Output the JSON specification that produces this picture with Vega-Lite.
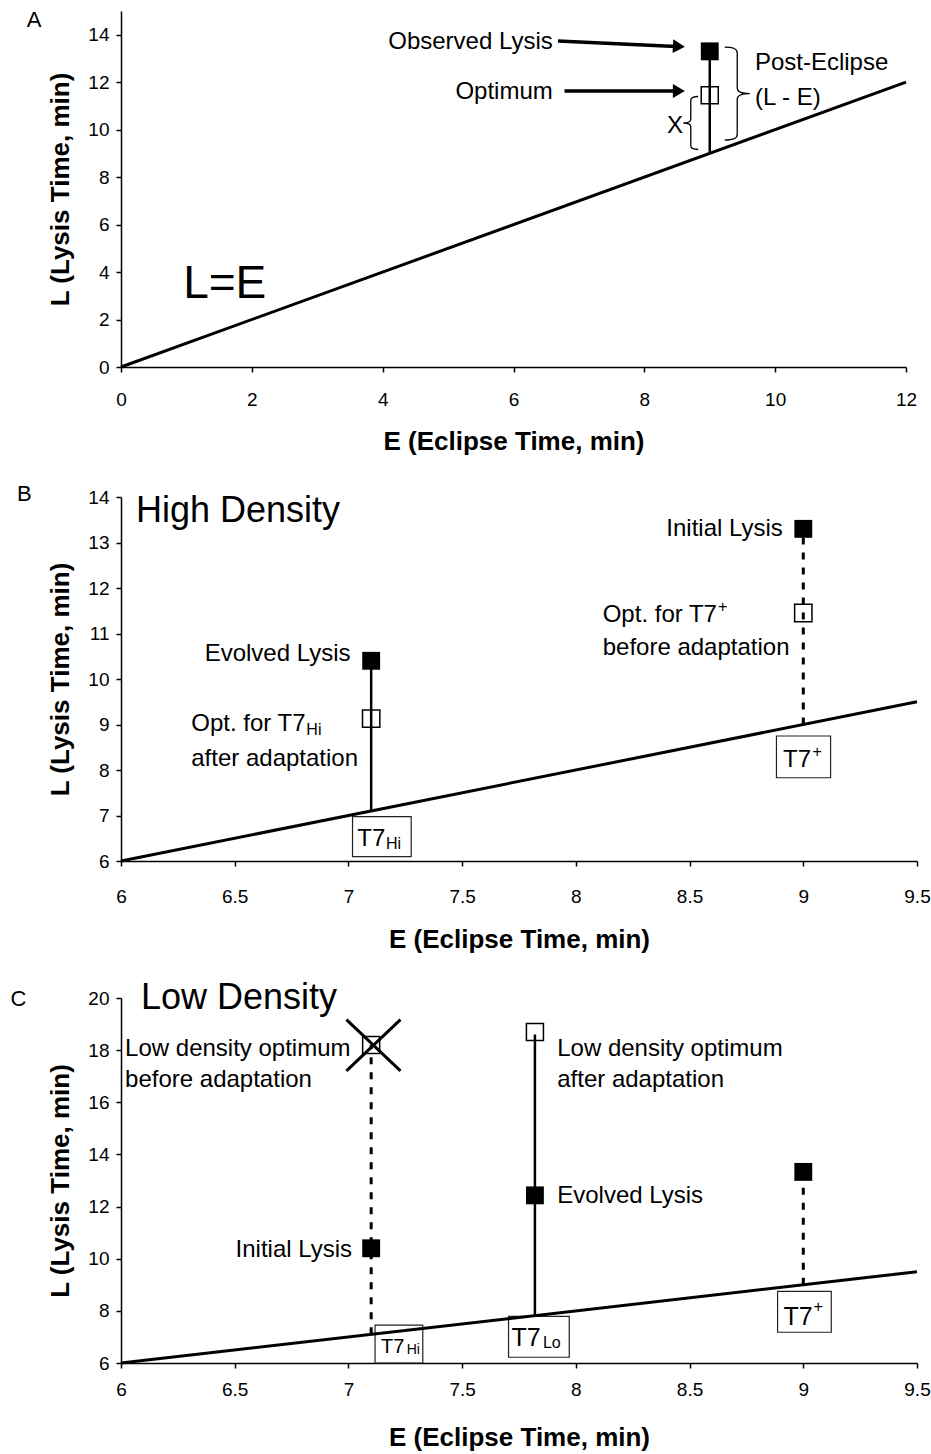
{
  "$schema": "https://vega.github.io/schema/vega-lite/v6.json",
  "padding": {"left": 10, "top": 9, "right": 5, "bottom": 5},
  "spacing": 28,
  "background": "white",
  "config": {
    "view": {"stroke": null},
    "font": "Liberation Sans",
    "axis": {
      "grid": false, "domainColor": "black", "domainWidth": 1.5, "tickColor": "black", "tickWidth": 1.5, "tickSize": 5,
      "labelColor": "black", "labelFont": "Liberation Sans", "labelFontSize": 19, "labelFlush": false, "labelOverlap": false,
      "titleColor": "black", "titleFont": "Liberation Sans", "titleFontSize": 26, "titleFontWeight": "bold"
    },
    "axisX": {"labelPadding": 18, "titlePadding": 19, "labelAngle": 0},
    "axisY": {"labelPadding": 7, "titlePadding": 14},
    "text": {"font": "Liberation Sans", "color": "black"}
  },
  "datasets": {
    "A_line": [{"E": 0, "L": 0}, {"E": 12, "L": 12}],
    "A_stem": [{"E": 9, "L": 9}, {"E": 9, "L": 13.3}],
    "A_filled": [{"E": 9, "L": 13.3}],
    "A_open": [{"E": 9, "L": 11.45}],
    "A_arrows": [{"id": 1, "E": 6.68, "L": 13.74}, {"id": 1, "E": 8.48, "L": 13.5}, {"id": 2, "E": 6.78, "L": 11.63}, {"id": 2, "E": 8.48, "L": 11.63}],
    "A_heads": [{"id": 1, "E": 8.62, "L": 13.49}, {"id": 2, "E": 8.62, "L": 11.63}],
    "A_braceR": [{"E": 9.42, "L": 11.52}],
    "A_braceL": [{"E": 8.71, "L": 10.28}],
    "A_textR": [{"E": 6.6, "L": 13.68, "t": "Observed Lysis"}, {"E": 6.6, "L": 11.58, "t": "Optimum"}, {"E": 8.59, "L": 10.14, "t": "X"}],
    "A_textL": [{"E": 9.69, "L": 12.8, "t": "Post-Eclipse"}, {"E": 9.69, "L": 11.35, "t": "(L - E)"}],
    "A_big": [{"E": 0.95, "L": 3.49, "t": "L=E"}],
    "A_letter": [{"E": -1.33, "L": 14.61, "t": "A"}],

    "B_line": [{"E": 6, "L": 6}, {"E": 9.5, "L": 9.5}],
    "B_solid": [{"E": 7.1, "L": 7.1}, {"E": 7.1, "L": 10.4}],
    "B_dash": [{"E": 9, "L": 9}, {"E": 9, "L": 13.3}],
    "B_filled": [{"E": 9, "L": 13.3}, {"E": 7.1, "L": 10.4}],
    "B_open": [{"E": 9, "L": 11.45}, {"E": 7.1, "L": 9.13}],
    "B_boxes": [{"E": 7.018, "E2": 7.276, "L": 6.095, "L2": 6.974}, {"E": 8.882, "E2": 9.12, "L": 7.83, "L2": 8.747}],
    "B_textR": [{"E": 8.91, "L": 13.29, "t": "Initial Lysis"}, {"E": 7.009, "L": 10.54, "t": "Evolved Lysis"}],
    "B_textL": [{"E": 8.118, "L": 11.4, "t": "Opt. for T7"}, {"E": 8.118, "L": 10.69, "t": "before adaptation"}, {"E": 6.309, "L": 9.02, "t": "Opt. for T7"}, {"E": 6.309, "L": 8.25, "t": "after adaptation"}],
    "B_boxText": [{"E": 7.039, "L": 6.49, "t": "T7"}, {"E": 8.911, "L": 8.21, "t": "T7"}],
    "B_small": [{"E": 6.815, "L": 8.87, "t": "Hi"}, {"E": 8.625, "L": 11.59, "t": "+"}, {"E": 7.165, "L": 6.38, "t": "Hi"}, {"E": 9.04, "L": 8.4, "t": "+"}],
    "B_big": [{"E": 6.066, "L": 13.7, "t": "High Density"}],
    "B_letter": [{"E": 5.575, "L": 14.07, "t": "B"}],

    "C_line": [{"E": 6, "L": 6}, {"E": 9.5, "L": 9.5}],
    "C_solid": [{"E": 7.82, "L": 7.82}, {"E": 7.82, "L": 18.6}],
    "C_dash": [{"id": 1, "E": 7.1, "L": 7.1}, {"id": 1, "E": 7.1, "L": 18.2}, {"id": 2, "E": 9, "L": 9}, {"id": 2, "E": 9, "L": 13.33}],
    "C_filled": [{"E": 7.1, "L": 10.4}, {"E": 7.82, "L": 12.43}, {"E": 9, "L": 13.33}],
    "C_open": [{"E": 7.1, "L": 18.2}, {"E": 7.82, "L": 18.7}],
    "C_cross": [{"E": 7.11, "L": 18.19}],
    "C_boxes": [{"E": 7.117, "E2": 7.327, "L": 6.0, "L2": 7.45}, {"E": 7.704, "E2": 7.971, "L": 6.22, "L2": 7.79}, {"E": 8.887, "E2": 9.123, "L": 7.18, "L2": 8.75}],
    "C_textR": [{"E": 7.016, "L": 10.32, "t": "Initial Lysis"}],
    "C_textL": [{"E": 6.018, "L": 18.03, "t": "Low density optimum"}, {"E": 6.018, "L": 16.84, "t": "before adaptation"}, {"E": 7.918, "L": 18.03, "t": "Low density optimum"}, {"E": 7.918, "L": 16.84, "t": "after adaptation"}, {"E": 7.918, "L": 12.39, "t": "Evolved Lysis"}],
    "C_boxText": [{"E": 7.717, "L": 6.95, "t": "T7"}, {"E": 8.913, "L": 7.75, "t": "T7"}],
    "C_boxTextSmall": [{"E": 7.143, "L": 6.6, "t": "T7"}],
    "C_small": [{"E": 7.855, "L": 6.76, "t": "Lo"}, {"E": 9.045, "L": 8.14, "t": "+"}],
    "C_tiny": [{"E": 7.256, "L": 6.49, "t": "Hi"}],
    "C_big": [{"E": 6.088, "L": 19.99, "t": "Low Density"}],
    "C_letter": [{"E": 5.549, "L": 19.97, "t": "C"}]
  },
  "resolve": {"scale": {"x": "independent", "y": "independent"}},
  "vconcat": [
    {
      "width": 785, "height": 356,
      "encoding": {
        "x": {"field": "E", "type": "quantitative", "scale": {"domain": [0, 12], "nice": false, "zero": false}, "axis": {"values": [0, 2, 4, 6, 8, 10, 12], "format": "~g", "title": "E (Eclipse Time, min)"}},
        "y": {"field": "L", "type": "quantitative", "scale": {"domain": [0, 15], "nice": false, "zero": false}, "axis": {"values": [0, 2, 4, 6, 8, 10, 12, 14], "format": "~g", "title": "L (Lysis Time, min)"}}
      },
      "layer": [
        {"data": {"name": "A_line"}, "mark": {"type": "line", "color": "black", "strokeWidth": 3}},
        {"data": {"name": "A_stem"}, "mark": {"type": "line", "color": "black", "strokeWidth": 2.5}},
        {"data": {"name": "A_arrows"}, "mark": {"type": "line", "color": "black", "strokeWidth": 3.5}, "encoding": {"detail": {"field": "id"}}},
        {"data": {"name": "A_heads"}, "transform": [{"filter": "datum.id == 1"}], "mark": {"type": "point", "shape": "M0,0L-2,-1.15L-2,1.15Z", "size": 144, "filled": true, "color": "black", "opacity": 1, "angle": 3}},
        {"data": {"name": "A_heads"}, "transform": [{"filter": "datum.id == 2"}], "mark": {"type": "point", "shape": "M0,0L-2,-1.15L-2,1.15Z", "size": 144, "filled": true, "color": "black", "opacity": 1}},
        {"data": {"name": "A_filled"}, "mark": {"type": "point", "shape": "square", "size": 320, "filled": true, "color": "black", "opacity": 1}},
        {"data": {"name": "A_open"}, "mark": {"type": "point", "shape": "square", "size": 290, "filled": false, "stroke": "black", "strokeWidth": 1.5, "opacity": 1}},
        {"data": {"name": "A_braceR"}, "mark": {"type": "point", "shape": "M-0.27,-1Q0,-1 0,-0.88L0,-0.12Q0,0 0.27,0Q0,0 0,0.12L0,0.88Q0,1 -0.27,1", "size": 8649, "filled": false, "stroke": "black", "strokeWidth": 1.3, "opacity": 1}},
        {"data": {"name": "A_braceL"}, "mark": {"type": "point", "shape": "M0.28,-1Q0,-1 0,-0.85L0,-0.15Q0,0 -0.28,0Q0,0 0,0.15L0,0.85Q0,1 0.28,1", "size": 2809, "filled": false, "stroke": "black", "strokeWidth": 1.3, "opacity": 1}},
        {"data": {"name": "A_textR"}, "mark": {"type": "text", "align": "right", "baseline": "middle", "fontSize": 24}, "encoding": {"text": {"field": "t"}}},
        {"data": {"name": "A_textL"}, "mark": {"type": "text", "align": "left", "baseline": "middle", "fontSize": 24}, "encoding": {"text": {"field": "t"}}},
        {"data": {"name": "A_big"}, "mark": {"type": "text", "align": "left", "baseline": "middle", "fontSize": 46}, "encoding": {"text": {"field": "t"}}},
        {"data": {"name": "A_letter"}, "mark": {"type": "text", "align": "center", "baseline": "middle", "fontSize": 22}, "encoding": {"text": {"field": "t"}}}
      ]
    },
    {
      "width": 796, "height": 364,
      "encoding": {
        "x": {"field": "E", "type": "quantitative", "scale": {"domain": [6, 9.5], "nice": false, "zero": false}, "axis": {"values": [6, 6.5, 7, 7.5, 8, 8.5, 9, 9.5], "format": "~g", "title": "E (Eclipse Time, min)", "labelPadding": 21, "titlePadding": 20}},
        "y": {"field": "L", "type": "quantitative", "scale": {"domain": [6, 14], "nice": false, "zero": false}, "axis": {"values": [6, 7, 8, 9, 10, 11, 12, 13, 14], "format": "~g", "title": "L (Lysis Time, min)"}}
      },
      "layer": [
        {"data": {"name": "B_boxes"}, "mark": {"type": "rect", "fillOpacity": 0, "stroke": "#222222", "strokeWidth": 1.2}, "encoding": {"x2": {"field": "E2"}, "y2": {"field": "L2"}}},
        {"data": {"name": "B_line"}, "mark": {"type": "line", "color": "black", "strokeWidth": 3}},
        {"data": {"name": "B_solid"}, "mark": {"type": "line", "color": "black", "strokeWidth": 2.5}},
        {"data": {"name": "B_dash"}, "mark": {"type": "line", "color": "black", "strokeWidth": 3, "strokeDash": [7, 8]}},
        {"data": {"name": "B_filled"}, "mark": {"type": "point", "shape": "square", "size": 320, "filled": true, "color": "black", "opacity": 1}},
        {"data": {"name": "B_open"}, "mark": {"type": "point", "shape": "square", "size": 300, "filled": false, "stroke": "black", "strokeWidth": 1.5, "opacity": 1}},
        {"data": {"name": "B_textR"}, "mark": {"type": "text", "align": "right", "baseline": "middle", "fontSize": 24}, "encoding": {"text": {"field": "t"}}},
        {"data": {"name": "B_textL"}, "mark": {"type": "text", "align": "left", "baseline": "middle", "fontSize": 24}, "encoding": {"text": {"field": "t"}}},
        {"data": {"name": "B_boxText"}, "mark": {"type": "text", "align": "left", "baseline": "middle", "fontSize": 24}, "encoding": {"text": {"field": "t"}}},
        {"data": {"name": "B_small"}, "mark": {"type": "text", "align": "left", "baseline": "middle", "fontSize": 16}, "encoding": {"text": {"field": "t"}}},
        {"data": {"name": "B_big"}, "mark": {"type": "text", "align": "left", "baseline": "middle", "fontSize": 36}, "encoding": {"text": {"field": "t"}}},
        {"data": {"name": "B_letter"}, "mark": {"type": "text", "align": "center", "baseline": "middle", "fontSize": 22}, "encoding": {"text": {"field": "t"}}}
      ]
    },
    {
      "width": 796, "height": 365,
      "encoding": {
        "x": {"field": "E", "type": "quantitative", "scale": {"domain": [6, 9.5], "nice": false, "zero": false}, "axis": {"values": [6, 6.5, 7, 7.5, 8, 8.5, 9, 9.5], "format": "~g", "title": "E (Eclipse Time, min)", "labelPadding": 12, "titlePadding": 25}},
        "y": {"field": "L", "type": "quantitative", "scale": {"domain": [6, 20], "nice": false, "zero": false}, "axis": {"values": [6, 8, 10, 12, 14, 16, 18, 20], "format": "~g", "title": "L (Lysis Time, min)"}}
      },
      "layer": [
        {"data": {"name": "C_boxes"}, "mark": {"type": "rect", "fillOpacity": 0, "stroke": "#222222", "strokeWidth": 1.2}, "encoding": {"x2": {"field": "E2"}, "y2": {"field": "L2"}}},
        {"data": {"name": "C_line"}, "mark": {"type": "line", "color": "black", "strokeWidth": 3}},
        {"data": {"name": "C_solid"}, "mark": {"type": "line", "color": "black", "strokeWidth": 2.5}},
        {"data": {"name": "C_dash"}, "mark": {"type": "line", "color": "black", "strokeWidth": 3, "strokeDash": [7, 8]}, "encoding": {"detail": {"field": "id"}}},
        {"data": {"name": "C_filled"}, "mark": {"type": "point", "shape": "square", "size": 320, "filled": true, "color": "black", "opacity": 1}},
        {"data": {"name": "C_open"}, "mark": {"type": "point", "shape": "square", "size": 290, "filled": false, "stroke": "black", "strokeWidth": 1.5, "opacity": 1}},
        {"data": {"name": "C_cross"}, "mark": {"type": "point", "shape": "M-1,-0.95L1,0.95M-1,0.95L1,-0.95", "size": 2916, "filled": false, "stroke": "black", "strokeWidth": 3, "opacity": 1}},
        {"data": {"name": "C_textR"}, "mark": {"type": "text", "align": "right", "baseline": "middle", "fontSize": 24}, "encoding": {"text": {"field": "t"}}},
        {"data": {"name": "C_textL"}, "mark": {"type": "text", "align": "left", "baseline": "middle", "fontSize": 24}, "encoding": {"text": {"field": "t"}}},
        {"data": {"name": "C_boxText"}, "mark": {"type": "text", "align": "left", "baseline": "middle", "fontSize": 25}, "encoding": {"text": {"field": "t"}}},
        {"data": {"name": "C_boxTextSmall"}, "mark": {"type": "text", "align": "left", "baseline": "middle", "fontSize": 20}, "encoding": {"text": {"field": "t"}}},
        {"data": {"name": "C_small"}, "mark": {"type": "text", "align": "left", "baseline": "middle", "fontSize": 16}, "encoding": {"text": {"field": "t"}}},
        {"data": {"name": "C_tiny"}, "mark": {"type": "text", "align": "left", "baseline": "middle", "fontSize": 14}, "encoding": {"text": {"field": "t"}}},
        {"data": {"name": "C_big"}, "mark": {"type": "text", "align": "left", "baseline": "middle", "fontSize": 36}, "encoding": {"text": {"field": "t"}}},
        {"data": {"name": "C_letter"}, "mark": {"type": "text", "align": "center", "baseline": "middle", "fontSize": 22}, "encoding": {"text": {"field": "t"}}}
      ]
    }
  ]
}
